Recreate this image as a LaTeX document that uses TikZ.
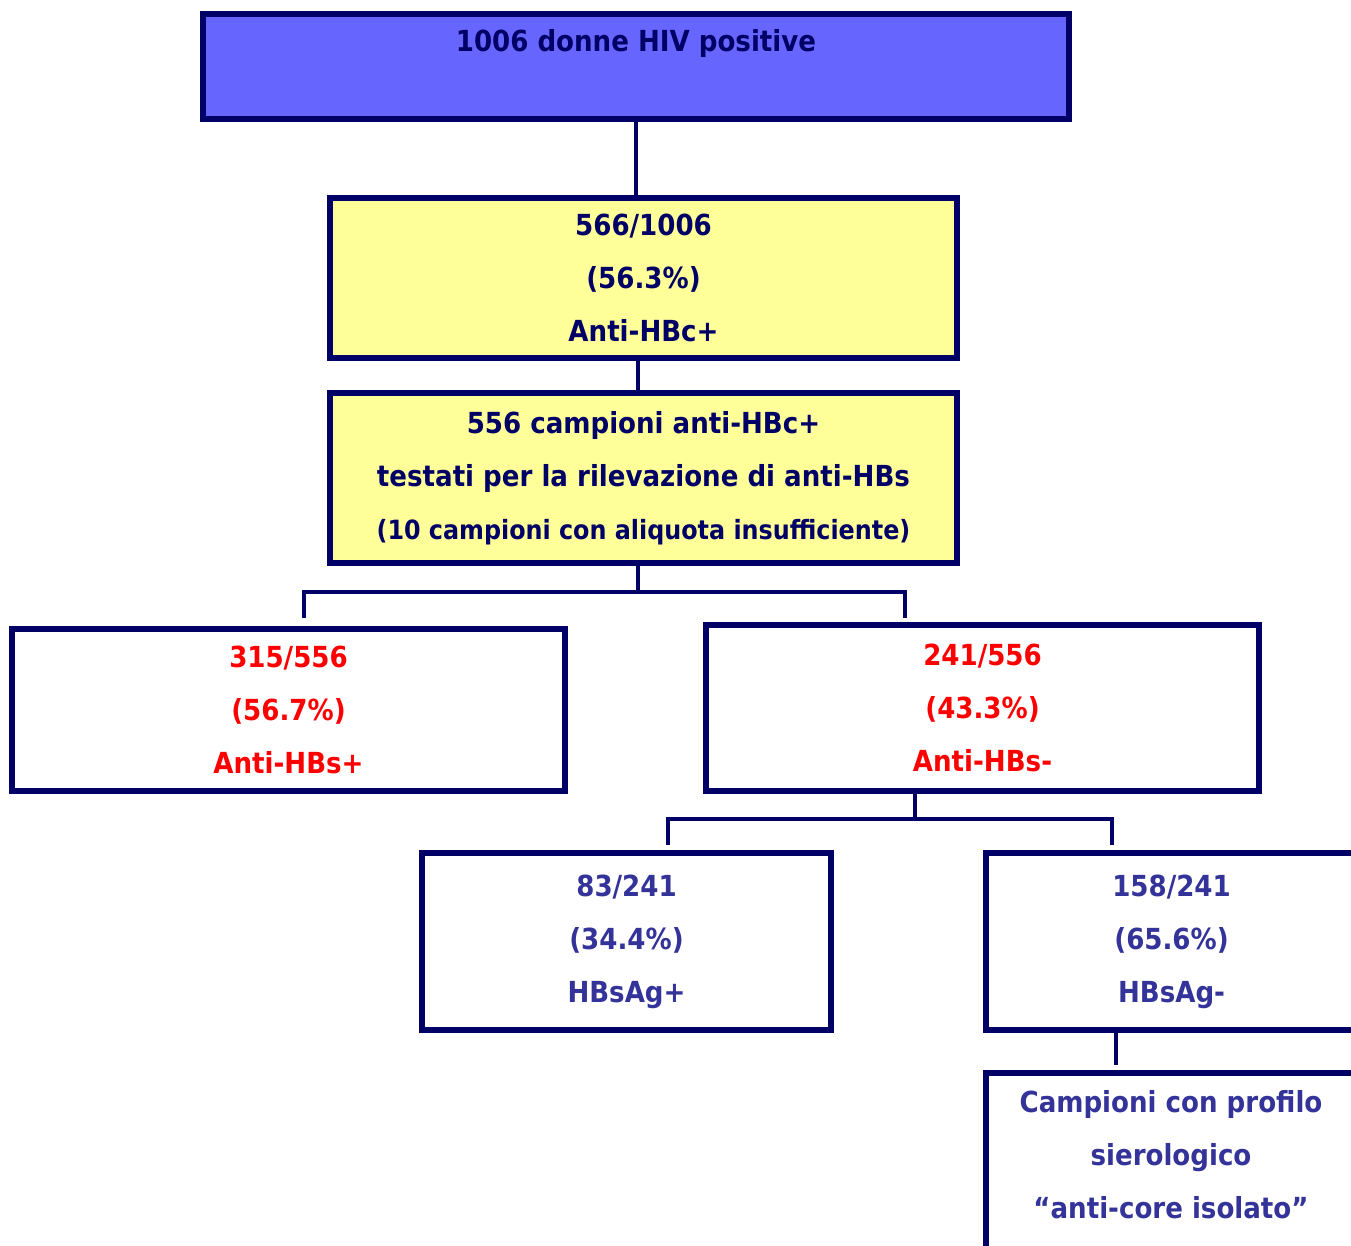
\documentclass[tikz,border=0pt]{standalone}
\usepackage{fontspec}
\setmainfont{DejaVu Sans Condensed}
\definecolor{navy}{HTML}{000066}
\definecolor{topblue}{HTML}{6666FF}
\definecolor{paleyellow}{HTML}{FFFF99}
\definecolor{txtblue}{HTML}{333399}
\definecolor{txtred}{HTML}{FF0000}
\begin{document}
\begin{tikzpicture}[x=1pt,y=-1pt,
  box/.style={draw=navy, line width=5.5pt, rectangle, inner sep=0pt, outer sep=0pt,
    align=center, font=\bfseries\fontsize{29}{53}\selectfont},
  lbl/.style={inner sep=0pt, align=center, font=\bfseries\fontsize{29}{53}\selectfont},
  conn/.style={draw=navy, line width=4.5pt}]
\useasboundingbox (0,0) rectangle (1351,1245);
\clip (0,0) rectangle (1351,1245);
% boxes
\node[box, fill=topblue, minimum width=866pt, minimum height=105pt] (top) at (636,66.5) {};
\node[lbl, text=navy] (toptxt) at (636,43) {1006 donne HIV positive};
\node[box, fill=paleyellow, text=navy, minimum width=627pt, minimum height=160pt] (b2) at (643.5,278)
  {566/1006\\(56.3\%)\\Anti-HBc+};
\node[box, fill=paleyellow, text=navy, minimum width=627pt, minimum height=170pt] (b3) at (643.5,478)
  {556 campioni anti-HBc+\\testati per la rilevazione di anti-HBs\\{\fontsize{26.5}{53}\selectfont (10 campioni con aliquota insufficiente)}};
\node[box, fill=white, text=txtred, minimum width=553pt, minimum height=162pt] (b4) at (288.5,710)
  {315/556\\(56.7\%)\\Anti-HBs+};
\node[box, fill=white, text=txtred, minimum width=553pt, minimum height=166pt] (b5) at (982.5,708)
  {241/556\\(43.3\%)\\Anti-HBs-};
\node[box, fill=white, text=txtblue, minimum width=409pt, minimum height=177pt] (b6) at (626.5,941.5)
  {83/241\\(34.4\%)\\HBsAg+};
\node[box, fill=white, text=txtblue, minimum width=371pt, minimum height=177pt] (b7) at (1171.5,941.5)
  {158/241\\(65.6\%)\\HBsAg-};
\node[box, fill=white, minimum width=371pt, minimum height=254pt] (b8) at (1171.5,1200) {};
\node[lbl, text=txtblue] (b8txt) at (1171,1155)
  {Campioni con profilo\\sierologico\\``anti-core isolato''};
% connectors
\draw[conn] (top.south) -- (top.south |- b2.north);
\draw[conn] ([xshift=-5.5pt]b2.south) -- ([xshift=-5.5pt]b3.north);
\coordinate (s1) at (638,592);
\coordinate (e4) at (304,618);
\coordinate (e5) at (905,618);
\draw[conn] ([xshift=-5.5pt]b3.south) -- (s1);
\draw[conn] (e4) |- (s1) -| (e5);
\coordinate (s2) at (915,819);
\coordinate (e6) at (668,845);
\coordinate (e7) at (1112,845);
\draw[conn] (b5.south -| s2) -- (s2);
\draw[conn] (e6) |- (s2) -| (e7);
\coordinate (e8) at (1116,1065);
\draw[conn] (b7.south -| e8) -- (e8);
\end{tikzpicture}
\end{document}
